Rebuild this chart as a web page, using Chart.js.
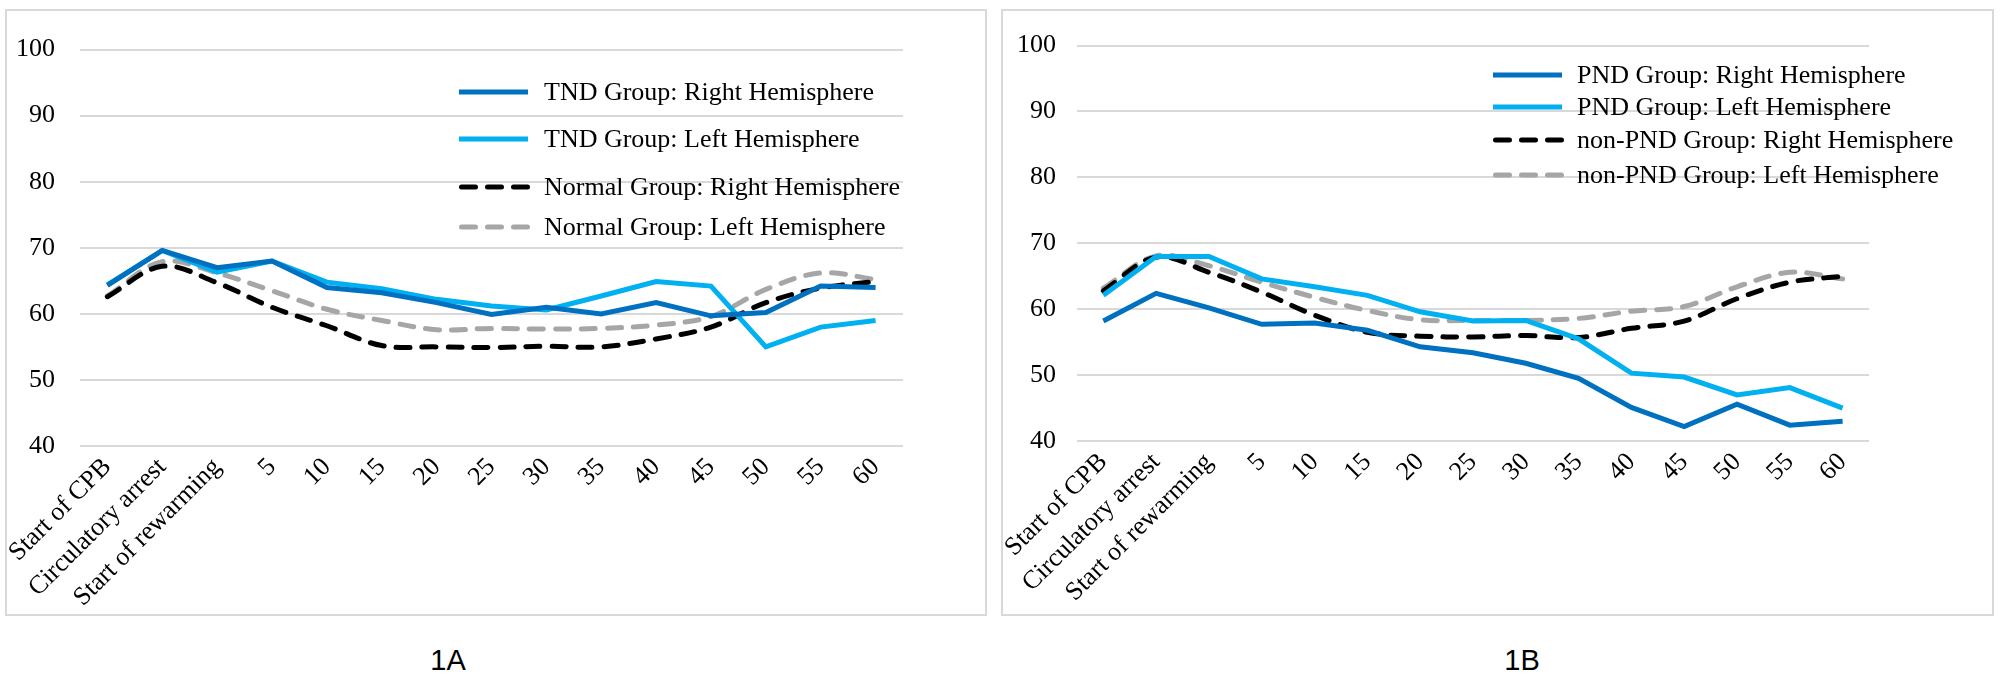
<!DOCTYPE html>
<html>
<head>
<meta charset="utf-8">
<script src="https://cdn.jsdelivr.net/npm/chart.js@4.4.1/dist/chart.umd.min.js"></script>
<style>
  html, body { margin: 0; padding: 0; background: #fff; }
  body { width: 2000px; height: 682px; position: relative; overflow: hidden; }
  .box { position: absolute; box-sizing: border-box; border: 2px solid #d9d9d9; }
  .cv { position: absolute; }
  .cap { position: absolute; font-family: "Liberation Sans", Arial, sans-serif; font-size: 29px; color: #000; transform: translate(-50%, -50%); white-space: nowrap; }
</style>
</head>
<body>
<div class="box" style="left:5px;top:9px;width:982px;height:607px;"></div>
<div class="box" style="left:1001px;top:9px;width:993px;height:607px;"></div>
<canvas id="cA" class="cv" style="left:5px;top:9px;width:982px;height:607px;" width="982" height="607"></canvas>
<canvas id="cB" class="cv" style="left:1001px;top:9px;width:993px;height:607px;" width="993" height="607"></canvas>
<div class="cap" style="left:448px;top:660px;">1A</div>
<div class="cap" style="left:1522px;top:660px;">1B</div>
<script>
// ---- data ----
const categories = ['Start of CPB', 'Circulatory arrest', 'Start of rewarming', '5', '10', '15', '20', '25', '30', '35', '40', '45', '50', '55', '60'];
const yTicks = [40, 50, 60, 70, 80, 90, 100];

const labelsA = ['TND Group: Right Hemisphere', 'TND Group: Left Hemisphere', 'Normal Group: Right Hemisphere', 'Normal Group: Left Hemisphere'];
const tndRight    = [64.3, 69.6, 67.0, 68.0, 64.0, 63.2, 61.7, 59.9, 61.0, 60.0, 61.7, 59.7, 60.2, 64.2, 64.0];
const tndLeft     = [64.4, 69.6, 66.3, 68.0, 64.8, 63.8, 62.2, 61.2, 60.6, 62.7, 64.9, 64.2, 55.0, 58.0, 59.0];
const normalRight = [62.6, 67.2, 64.7, 61.0, 58.2, 55.2, 55.0, 54.9, 55.1, 55.0, 56.2, 58.0, 61.7, 63.9, 64.9];
const normalLeft  = [62.7, 67.9, 66.2, 63.5, 60.7, 59.0, 57.6, 57.8, 57.7, 57.8, 58.3, 59.6, 63.7, 66.2, 65.2];

const labelsB = ['PND Group: Right Hemisphere', 'PND Group: Left Hemisphere', 'non-PND Group: Right Hemisphere', 'non-PND Group: Left Hemisphere'];
const pndRight    = [58.2, 62.4, 60.2, 57.7, 57.9, 56.8, 54.3, 53.4, 51.8, 49.5, 45.1, 42.2, 45.6, 42.4, 43.0];
const pndLeft     = [62.1, 68.0, 68.0, 64.6, 63.4, 62.1, 59.6, 58.2, 58.3, 55.5, 50.3, 49.7, 47.0, 48.1, 45.0];
const nonPndRight = [62.8, 67.9, 65.6, 62.6, 59.1, 56.5, 55.9, 55.8, 56.0, 55.7, 57.1, 58.2, 61.6, 64.1, 65.0];
const nonPndLeft  = [63.2, 68.1, 66.6, 64.1, 61.8, 59.8, 58.4, 58.3, 58.3, 58.6, 59.7, 60.4, 63.4, 65.6, 64.6];

// ---- styles ----
const SERIF = '"Liberation Serif", "Times New Roman", serif';
const seriesStyles = [
  { borderColor: '#0070C0', borderWidth: 5, tension: 0, borderDash: [] },
  { borderColor: '#00B0F0', borderWidth: 5, tension: 0, borderDash: [] },
  { borderColor: '#000000', borderWidth: 5, tension: 0.35, borderDash: [14, 12], borderCapStyle: 'round' },
  { borderColor: '#A6A6A6', borderWidth: 5, tension: 0.35, borderDash: [14, 12], borderCapStyle: 'round' }
];

const panelLegend = {
  id: 'panelLegend',
  afterDraw(chart, args, opts) {
    const ctx = chart.ctx;
    ctx.save();
    chart.data.datasets.forEach((ds, i) => {
      const y = opts.rows[i];
      ctx.beginPath();
      ctx.lineWidth = ds.borderWidth;
      ctx.strokeStyle = ds.borderColor;
      const dashed = ds.borderDash && ds.borderDash.length;
      ctx.setLineDash(dashed ? ds.borderDash : []);
      ctx.lineCap = dashed ? 'round' : 'butt';
      ctx.moveTo(opts.x0 + (dashed ? 2.5 : 0), y);
      ctx.lineTo(opts.x1, y);
      ctx.stroke();
      ctx.setLineDash([]);
      ctx.fillStyle = '#000';
      ctx.font = '26px ' + SERIF;
      ctx.textBaseline = 'middle';
      ctx.textAlign = 'left';
      ctx.fillText(ds.label, opts.textX, y + 1);
    });
    ctx.restore();
  }
};

function makeChart(id, labels, series, geo) {
  const datasets = series.map((vals, i) => Object.assign({
    label: labels[i],
    data: vals,
    pointRadius: 0,
    pointHoverRadius: 0,
    fill: false
  }, seriesStyles[i]));
  return new Chart(document.getElementById(id), {
    type: 'line',
    data: { labels: categories, datasets },
    plugins: [panelLegend],
    options: {
      responsive: false,
      animation: false,
      devicePixelRatio: 1,
      layout: { padding: { left: 0, top: geo.top, right: geo.right, bottom: 0 } },
      plugins: {
        legend: { display: false },
        tooltip: { enabled: false },
        panelLegend: geo.legend
      },
      scales: {
        x: {
          type: 'category',
          offset: true,
          grid: { display: false, drawTicks: false },
          border: { display: false },
          ticks: {
            autoSkip: false,
            maxRotation: 45,
            minRotation: 45,
            padding: geo.xPad,
            color: '#000',
            font: { family: SERIF, size: 26 }
          },
          afterFit(scale) { scale.height = geo.xHeight; }
        },
        y: {
          min: 40,
          max: 100,
          afterBuildTicks(scale) { scale.ticks = yTicks.map(v => ({ value: v })); },
          grid: { color: '#d9d9d9', lineWidth: 2, drawTicks: false },
          border: { display: false },
          ticks: {
            padding: geo.yPad,
            color: '#000',
            font: { family: SERIF, size: 26 }
          },
          afterFit(scale) { scale.width = geo.yWidth; }
        }
      }
    }
  });
}

makeChart('cA', labelsA, [tndRight, tndLeft, normalRight, normalLeft], {
  top: 37, right: 84, xHeight: 170, yWidth: 72, yPad: 25, xPad: 6,
  legend: { x0: 454, x1: 523, textX: 539, rows: [83, 130, 178, 218] }
});
makeChart('cB', labelsB, [pndRight, pndLeft, nonPndRight, nonPndLeft], {
  top: 35, right: 125, xHeight: 175, yWidth: 71, yPad: 21, xPad: 6,
  legend: { x0: 492, x1: 561, textX: 576, rows: [66, 98, 131, 166] }
});
</script>
</body>
</html>
